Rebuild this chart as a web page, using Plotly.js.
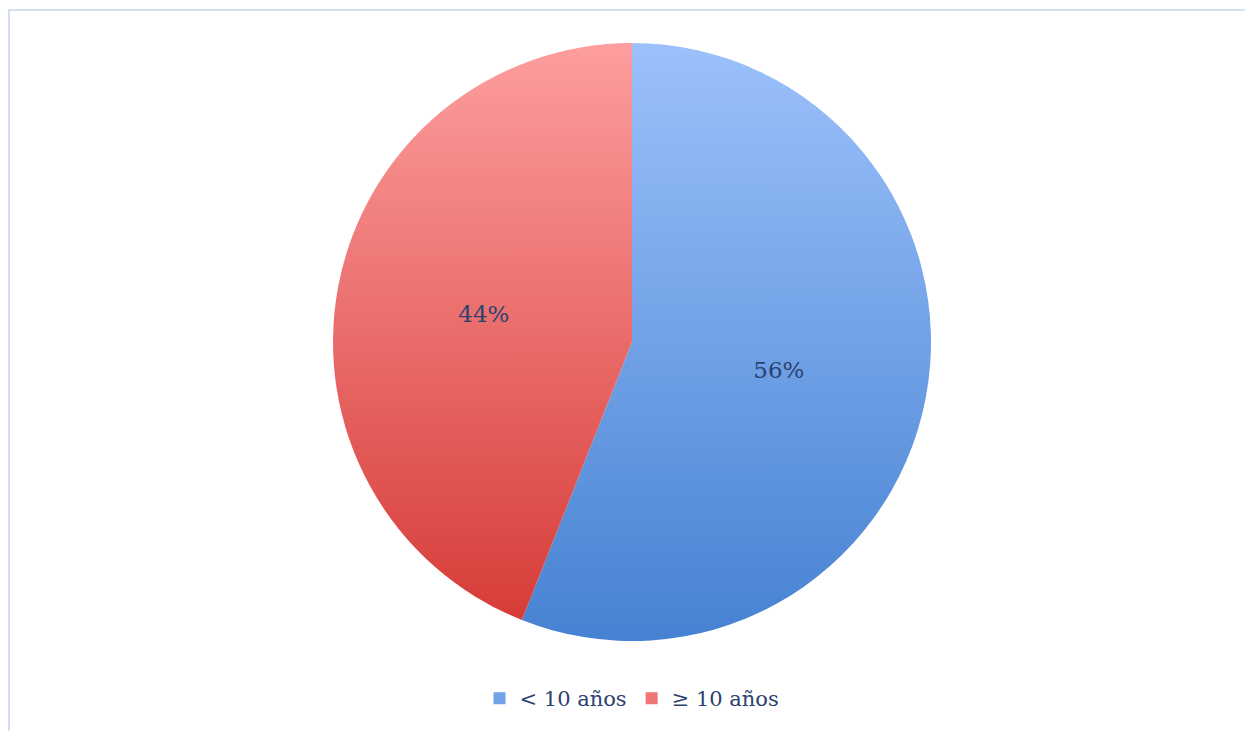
<!DOCTYPE html>
<html>
<head>
<meta charset="utf-8">
<script src="https://cdn.plot.ly/plotly-3.0.1.min.js"></script>
<style>
  html, body { margin: 0; padding: 0; background: #ffffff; overflow: hidden; }
  #frame { position: absolute; left: 8px; top: 9px; width: 1260px; height: 740px;
           border-left: 2px solid #d3e0f3; border-top: 2px solid #d3e0f3; box-sizing: border-box; }
  #chart { position: absolute; left: 0; top: 0; width: 1245px; height: 731px; }
</style>
</head>
<body>
<div id="frame"></div>
<div id="chart"></div>
<script>
const categories = ["< 10 años", "≥ 10 años"];
const values = [56, 44];
const sliceColors = ["#72a2e8", "#ee7676"];
const gradientStops = [["#9cc1fb", "#4682d2"], ["#fd9e9e", "#d63c38"]];

const trace = {
  type: "pie",
  labels: categories,
  values: values,
  sort: false,
  direction: "clockwise",
  rotation: 0,
  textinfo: "percent",
  texttemplate: "%{percent:.0%}",
  textposition: "inside",
  insidetextorientation: "horizontal",
  textfont: { family: "DejaVu Serif", size: 23, color: "#2c4270" },
  marker: { colors: sliceColors, line: { width: 0 } },
  hoverinfo: "none"
};

const layout = {
  width: 1245,
  height: 731,
  margin: { l: 19, r: 0, t: 43, b: 90 },
  paper_bgcolor: "rgba(0,0,0,0)",
  plot_bgcolor: "rgba(0,0,0,0)",
  showlegend: true,
  legend: {
    orientation: "h",
    x: 0.5, xanchor: "center",
    y: -0.062, yanchor: "top",
    font: { family: "DejaVu Serif", size: 21, color: "#2c4270" },
    itemwidth: 30,
    tracegroupgap: 0
  },
  font: { family: "DejaVu Serif" }
};

Plotly.newPlot("chart", [trace], layout, { staticPlot: true, displayModeBar: false }).then(function (gd) {
  const svg = gd.querySelector("svg.main-svg");
  const ns = "http://www.w3.org/2000/svg";
  let defs = svg.querySelector("defs");
  if (!defs) { defs = document.createElementNS(ns, "defs"); svg.insertBefore(defs, svg.firstChild); }
  gradientStops.forEach(function (stops, i) {
    const g = document.createElementNS(ns, "linearGradient");
    g.setAttribute("id", "sliceGrad" + i);
    g.setAttribute("x1", "0"); g.setAttribute("y1", "0");
    g.setAttribute("x2", "0"); g.setAttribute("y2", "1");
    stops.forEach(function (c, k) {
      const s = document.createElementNS(ns, "stop");
      s.setAttribute("offset", k === 0 ? "0" : "1");
      s.setAttribute("stop-color", c);
      g.appendChild(s);
    });
    defs.appendChild(g);
  });
  const paths = gd.querySelectorAll(".pielayer .slice path.surface");
  paths.forEach(function (p, i) {
    if (i < gradientStops.length) p.style.fill = "url(#sliceGrad" + i + ")";
  });
});
</script>
</body>
</html>
